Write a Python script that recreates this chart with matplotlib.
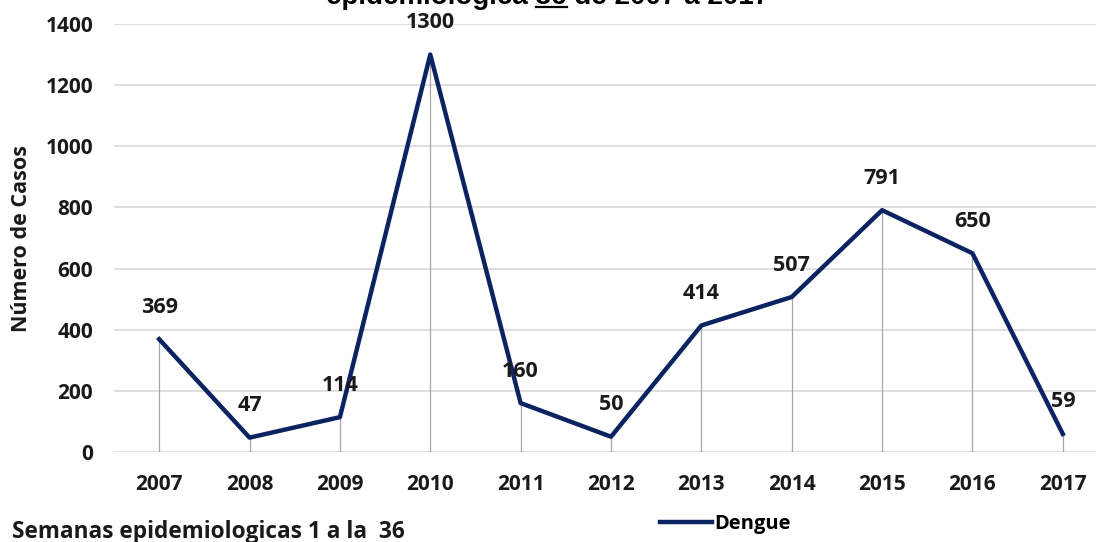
import matplotlib
matplotlib.use("Agg")
import matplotlib.pyplot as plt
from matplotlib.lines import Line2D

###--- datos
anios = ['2007', '2008', '2009', '2010', '2011', '2012', '2013', '2014', '2015', '2016', '2017']
casos = [369, 47, 114, 1300, 160, 50, 414, 507, 791, 650, 59]
serie = 'Dengue'
y_ticks = [0, 200, 400, 600, 800, 1000, 1200, 1400]

titulo_pre, titulo_num, titulo_post = 'epidemiologica ', '36', ' de 2007 a 2017'
nota = 'Semanas epidemiologicas 1 a la  36'
ylabel = 'Número de Casos'

AZUL = '#0b2461'
W, H = 1096, 542

plt.rcParams['font.family'] = ['Open Sans', 'DejaVu Sans']
plt.rcParams['font.weight'] = 'bold'

fig = plt.figure(figsize=(W / 100, H / 100), dpi=100)
ax = fig.add_axes([114 / W, 1 - 452 / H, (1108 - 114) / W, (452 - 24) / H])

x = list(range(len(anios)))
ax.vlines(x, 0, casos, color='#a6a6a6', lw=0.9, zorder=1)
ax.plot(x, casos, color=AZUL, lw=3.2, solid_joinstyle='round', label=serie, zorder=3)

for xi, v in zip(x, casos):
    ax.annotate(str(v), (xi, v), xytext=(0, 32), textcoords='offset pixels',
                ha='center', va='center', fontsize=15.5, fontweight='bold', color='#1a1a1a')

ax.set_xlim(-0.5, len(anios) - 0.5)
ax.set_ylim(0, 1400)
ax.set_yticks(y_ticks)
ax.set_xticks(x)
ax.set_xticklabels(anios)
ax.yaxis.grid(True, color='#d9d9d9', lw=1.2)
ax.set_axisbelow(True)
for s in ax.spines.values():
    s.set_visible(False)
ax.tick_params(axis='both', length=0, labelsize=15, labelcolor='#1a1a1a')
ax.tick_params(axis='x', pad=16)
ax.tick_params(axis='y', pad=15)

fig.text(22 / W, 1 - 238 / H, ylabel, rotation=90, ha='center', va='center',
         fontsize=15.5, fontweight='bold', color='#1a1a1a')

fig.text(12 / W, 1 - 532 / H, nota, ha='left', va='center',
         fontsize=16.3, fontweight='bold', color='#1a1a1a')

fig.legend(loc='center left', bbox_to_anchor=(660 / W, 1 - 524 / H), frameon=False,
           handlelength=2.6, handletextpad=0.1, borderpad=0, borderaxespad=0,
           prop={'size': 14.5, 'weight': 'bold'})

###--- titulo recortado con el numero subrayado
tkw = dict(fontsize=20, fontweight='bold', family=['Liberation Sans', 'DejaVu Sans'], color='black')
y_base = 1 - 4 / H
t = fig.text(0.5, y_base, titulo_pre + titulo_num + titulo_post, ha='center', va='baseline', **tkw)
fig.canvas.draw()
r = fig.canvas.get_renderer()
bb = t.get_window_extent(r)
tmp = fig.text(0, 0, titulo_num + titulo_post, **tkw)
w_resto = tmp.get_window_extent(r).width
tmp.remove()
tmp = fig.text(0, 0, titulo_post, **tkw)
w_post = tmp.get_window_extent(r).width
tmp.remove()
x0 = (bb.x1 - w_resto) / W
x1 = (bb.x1 - w_post) / W
fig.add_artist(Line2D([x0, x1], [1 - 7 / H, 1 - 7 / H], transform=fig.transFigure,
                      color='black', lw=1.6))

fig.savefig('out.png', dpi=100)
